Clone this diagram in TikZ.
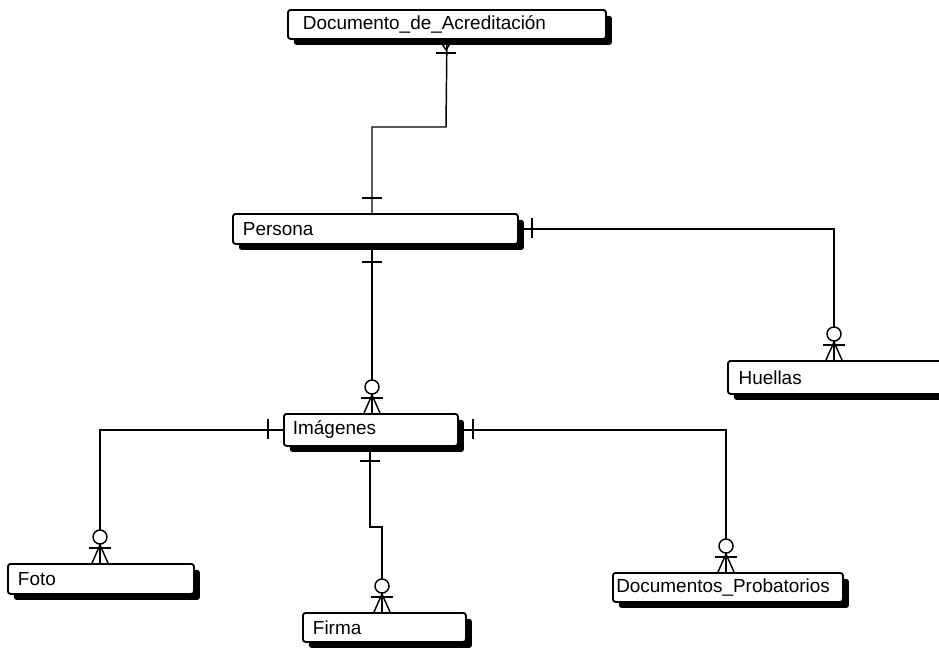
\documentclass[tikz,border=0pt]{standalone}
\usepackage{fontspec}
\setmainfont{Liberation Sans}
\usetikzlibrary{shadows}
\begin{document}
\begin{tikzpicture}[x=0.75pt,y=-0.75pt,
  entity/.style={draw, line width=1.4pt, rounded corners=2pt, fill=white,
    anchor=north west, align=left, inner ysep=0pt,
    font=\fontsize{14.2}{16}\selectfont,
    drop shadow={shadow xshift=4.5pt, shadow yshift=-4.5pt, opacity=1, fill=black}},
  conn/.style={line width=1.1pt},
  hbar/.pic={\draw[conn] (-10,0) -- (10,0);},
  vbar/.pic={\draw[conn] (0,-10) -- (0,10);},
  zmany/.pic={\draw[conn, fill=white] (0,-26) circle (7);
              \draw[conn] (-11,-15) -- (11,-15);
              \draw[conn] (-8,0) -- (0,-18) -- (8,0) (0,-18) -- (0,0);}
]
\useasboundingbox (0,0) rectangle (939,650);

% entities
\node[entity, inner xsep=11.25pt, text width=216pt, minimum height=21.75pt] (doc) at (287,9) {Documento\_de\_Acreditación};
\node[entity, inner xsep=7.5pt, text width=198.75pt, minimum height=22.5pt] (persona) at (232,213) {Persona};
\node[entity, inner xsep=8pt, text width=166.25pt, minimum height=24.75pt] (huellas) at (727,360) {Huellas};
\node[entity, inner xsep=6.75pt, text width=117pt, minimum height=24pt] (imagenes) at (283,413) {Imágenes};
\node[entity, inner xsep=7.5pt, text width=124.5pt, minimum height=22.5pt] (foto) at (7,563) {Foto};
\node[entity, inner xsep=7.5pt, text width=107.25pt, minimum height=21.75pt] (firma) at (302,612) {Firma};
\node[entity, inner xsep=2.5pt, text width=167.5pt, minimum height=21.75pt] (docprob) at (612,572) {Documentos\_Probatorios};

% connectors
\draw[conn] (doc.south) -- (446,127) -| (persona.north -| 372,0);
\draw[conn] (persona.east) -| (huellas.north -| 834,0);
\draw[conn] (persona.south -| 372,0) -- (imagenes.north -| 372,0);
\draw[conn] (imagenes.west) -| (foto.north -| 100,0);
\draw[conn] (imagenes.south -| 370,0) -- (370,527) -| (firma.north -| 382,0);
\draw[conn] (imagenes.east) -| (docprob.north -| 726,0);

% end symbols
\draw[conn] (441,42) -- (446,50) -- (451,42);
\pic at (446,53) {hbar};
\pic at (372,198) {hbar};
\pic at (532,228) {vbar};
\pic at (834,360) {zmany};
\pic at (372,262) {hbar};
\pic at (372,413) {zmany};
\pic at (268,429) {vbar};
\pic at (100,563) {zmany};
\pic at (370,461) {hbar};
\pic at (382,612) {zmany};
\pic at (473,429) {vbar};
\pic at (726,572) {zmany};
\end{tikzpicture}
\end{document}
